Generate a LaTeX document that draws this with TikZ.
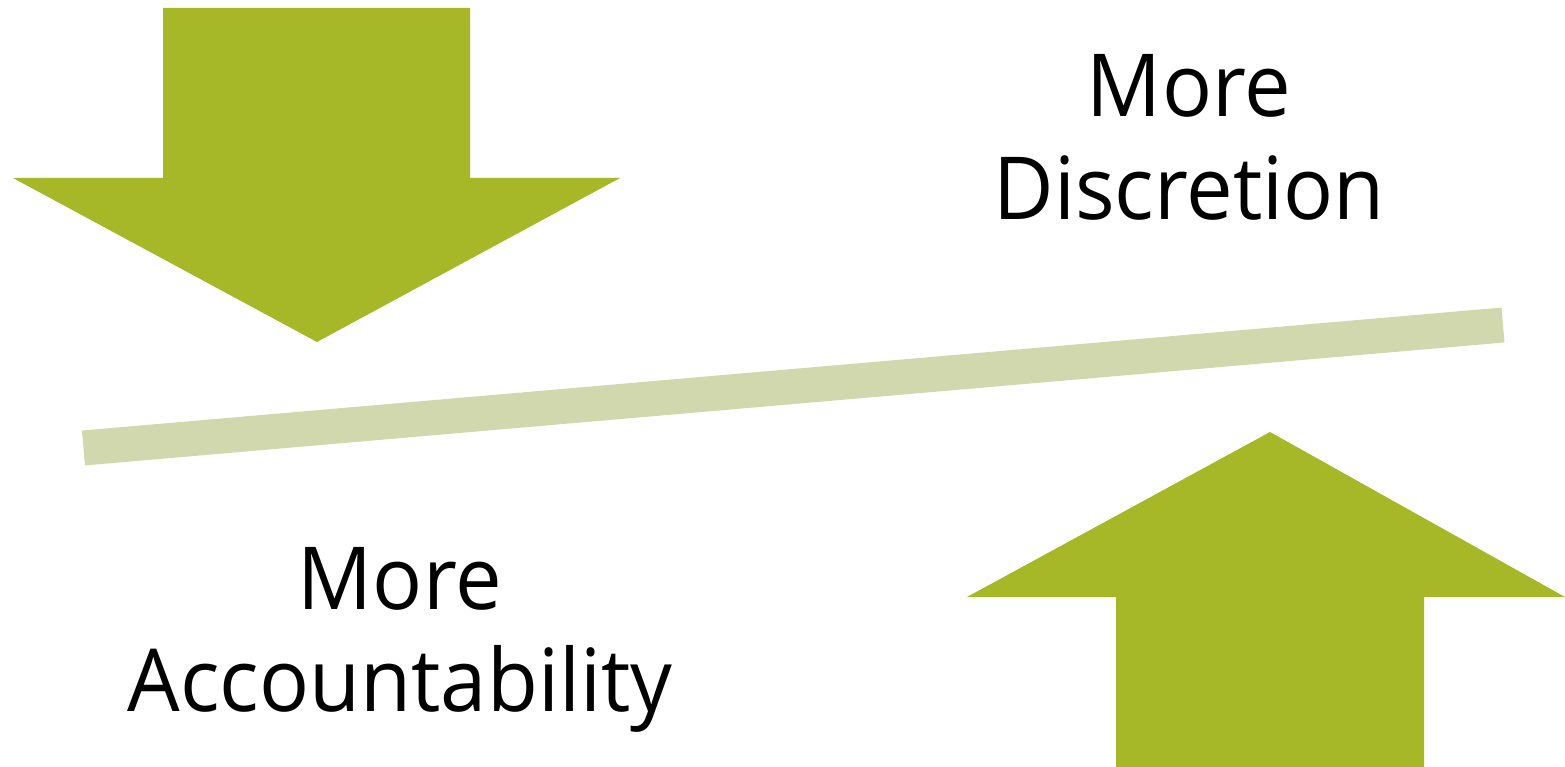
\documentclass[tikz,border=0pt]{standalone}
\usepackage{fontspec}
\setmainfont{Open Sans}
\definecolor{arrowgreen}{HTML}{A6B728}
\definecolor{barlight}{HTML}{D1D8AD}
\begin{document}
\begin{tikzpicture}[x=1pt,y=-1pt,
  bigarrow/.style={fill=arrowgreen, draw=none},
  lbl/.style={anchor=base, inner sep=0pt, xscale=0.955, font=\fontsize{87}{103}\selectfont}]
\useasboundingbox (0,0) rectangle (1565,767);
% down arrow
\fill[bigarrow] (163,8) -- (470,8) -- (470,178) -- (620,178) -- (317,342) -- (13,178) -- (163,178) -- cycle;
% up arrow
\fill[bigarrow] (1116,767) -- (1424,767) -- (1424,597) -- (1565,597) -- (1270,432) -- (967,597) -- (1116,597) -- cycle;
% bar
\coordinate (barL) at (83.5,448);
\coordinate (barR) at (1503,325);
\draw[barlight, line width=35pt] (barL) -- (barR);
% labels
\node[lbl] (d1) at (1189,117) {More};
\node[lbl] (d2) at (1189,220) {Discretion};
\node[lbl] (a1) at (400,609) {More};
\node[lbl] (a2) at (400,711) {Accountability};
\end{tikzpicture}
\end{document}
